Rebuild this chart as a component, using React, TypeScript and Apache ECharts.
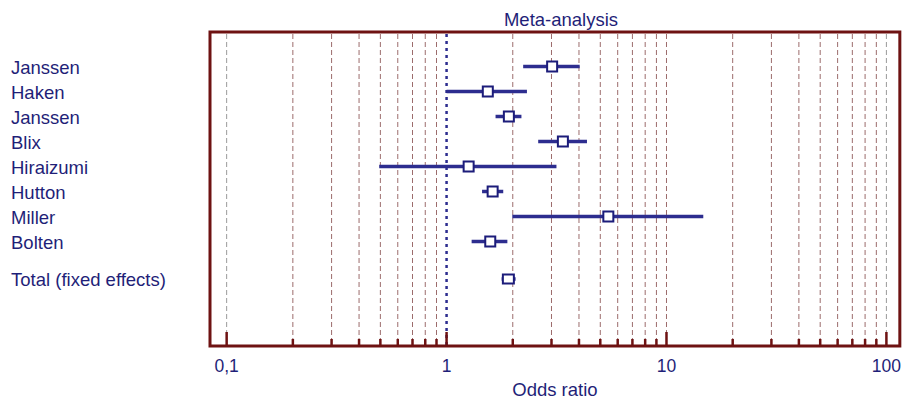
import React, { useEffect, useRef } from "react";
import * as echarts from "echarts";

const studies = ["Janssen", "Haken", "Janssen", "Blix", "Hiraizumi", "Hutton", "Miller", "Bolten"];
const oddsRatio = [3.02, 1.54, 1.92, 3.38, 1.26, 1.62, 5.44, 1.58];
const ciLower = [2.23, 1.0, 1.67, 2.61, 0.494, 1.45, 1.99, 1.3];
const ciUpper = [4.03, 2.32, 2.19, 4.35, 3.16, 1.81, 14.7, 1.89];
const rowPos = [1, 2, 3, 4, 5, 6, 7, 8];

const totalLabel = "Total (fixed effects)";
const totalOR = 1.91;
const totalLower = 1.78;
const totalUpper = 2.06;
const totalPos = 9.5;

const majorTicks = [0.1, 1, 10, 100];
const gridTicks = [
  0.1, 0.2, 0.3, 0.4, 0.5, 0.6, 0.7, 0.8, 0.9,
  1, 2, 3, 4, 5, 6, 7, 8, 9,
  10, 20, 30, 40, 50, 60, 70, 80, 90, 100,
];

const NAVY = "#1f1f78";
const LINE = "#2d2d8f";
const MAROON = "#6e1212";
const FONT = "'Liberation Sans', Arial, sans-serif";

export default function App() {
  const ref = useRef<HTMLDivElement>(null);

  useEffect(() => {
    document.body.style.margin = "0";
    const chart = echarts.init(ref.current!, undefined, { renderer: "svg" });

    const studyData = studies.map((s, i) => [oddsRatio[i], ciLower[i], ciUpper[i], rowPos[i], s, 0]);
    studyData.push([totalOR, totalLower, totalUpper, totalPos, totalLabel, 1]);

    const option: any = {
      animation: false,
      title: {
        text: "Meta-analysis",
        left: 556,
        textAlign: "center",
        top: 5,
        textStyle: { color: NAVY, fontSize: 18.5, fontWeight: "normal", fontFamily: FONT },
      },
      grid: {
        left: 210,
        right: 3.3,
        top: 32,
        bottom: 59,
        show: true,
        borderColor: MAROON,
        borderWidth: 3,
        backgroundColor: "#fff",
      },
      xAxis: {
        type: "log",
        logBase: 10,
        min: 0.084,
        max: 115.1,
        axisLine: { show: false },
        axisTick: { show: false },
        splitLine: { show: false },
        axisLabel: {
          customValues: majorTicks,
          color: NAVY,
          fontSize: 17.5,
          fontFamily: FONT,
          margin: 11,
          formatter: (v: number) => (Math.abs(v - 0.1) < 1e-9 ? "0,1" : String(Math.round(v))),
        },
        name: "Odds ratio",
        nameLocation: "middle",
        nameGap: 33,
        nameTextStyle: { color: NAVY, fontSize: 18.5, fontFamily: FONT },
      },
      yAxis: {
        type: "value",
        inverse: true,
        min: -0.38,
        max: 12.18,
        show: false,
      },
      series: [
        {
          type: "custom",
          clip: false,
          z: 1,
          data: gridTicks.map((v) => [v, majorTicks.includes(v) ? 1 : 0]),
          encode: { x: 0 },
          renderItem: (params: any, api: any) => {
            const v = api.value(0);
            const major = api.value(1) === 1;
            const cs = params.coordSys;
            const x = api.coord([v, 0])[0];
            const top = cs.y + 2;
            const bottom = cs.y + cs.height;
            const isOne = Math.abs(v - 1) < 1e-9;
            const edge = Math.abs(v - 0.1) < 1e-9 || Math.abs(v - 100) < 1e-9;
            const children: any[] = [
              {
                type: "line",
                shape: { x1: x, y1: top, x2: x, y2: bottom },
                style: isOne
                  ? { stroke: LINE, lineWidth: 2.5, lineDash: [3, 4] }
                  : { stroke: edge ? "#9a9a9a" : "#9c6c6c", lineWidth: 1, lineDash: [5, 3] },
              },
              {
                type: "line",
                shape: { x1: x, y1: bottom - (major ? 14 : 7), x2: x, y2: bottom },
                style: { stroke: MAROON, lineWidth: 2.5 },
              },
            ];
            return { type: "group", children };
          },
        },
        {
          type: "custom",
          clip: false,
          z: 3,
          data: studyData,
          encode: { x: [0, 1, 2], y: 3 },
          renderItem: (params: any, api: any) => {
            const or = api.value(0);
            const lo = api.value(1);
            const hi = api.value(2);
            const row = api.value(3);
            const isTotal = api.value(5) === 1;
            const label = studyData[params.dataIndex][4] as string;
            const pLo = api.coord([lo, row]);
            const pHi = api.coord([hi, row]);
            const pC = api.coord([or, row]);
            const w = isTotal ? 11 : 10;
            const h = isTotal ? 9 : 10;
            return {
              type: "group",
              children: [
                {
                  type: "text",
                  style: {
                    text: label,
                    x: 11,
                    y: pC[1] + 0.5,
                    fill: NAVY,
                    fontSize: 18.5,
                    fontFamily: FONT,
                    align: "left",
                    verticalAlign: "middle",
                  },
                },
                {
                  type: "line",
                  shape: { x1: pLo[0], y1: pLo[1], x2: pHi[0], y2: pHi[1] },
                  style: { stroke: LINE, lineWidth: 3.5 },
                },
                {
                  type: "rect",
                  shape: { x: pC[0] - w / 2, y: pC[1] - h / 2, width: w, height: h },
                  style: { fill: "#fff", stroke: "#1c1c7a", lineWidth: 2 },
                },
              ],
            };
          },
        },
      ],
    };

    chart.setOption(option);
    return () => chart.dispose();
  }, []);

  return <div ref={ref} style={{ width: 904, height: 405 }} />;
}
